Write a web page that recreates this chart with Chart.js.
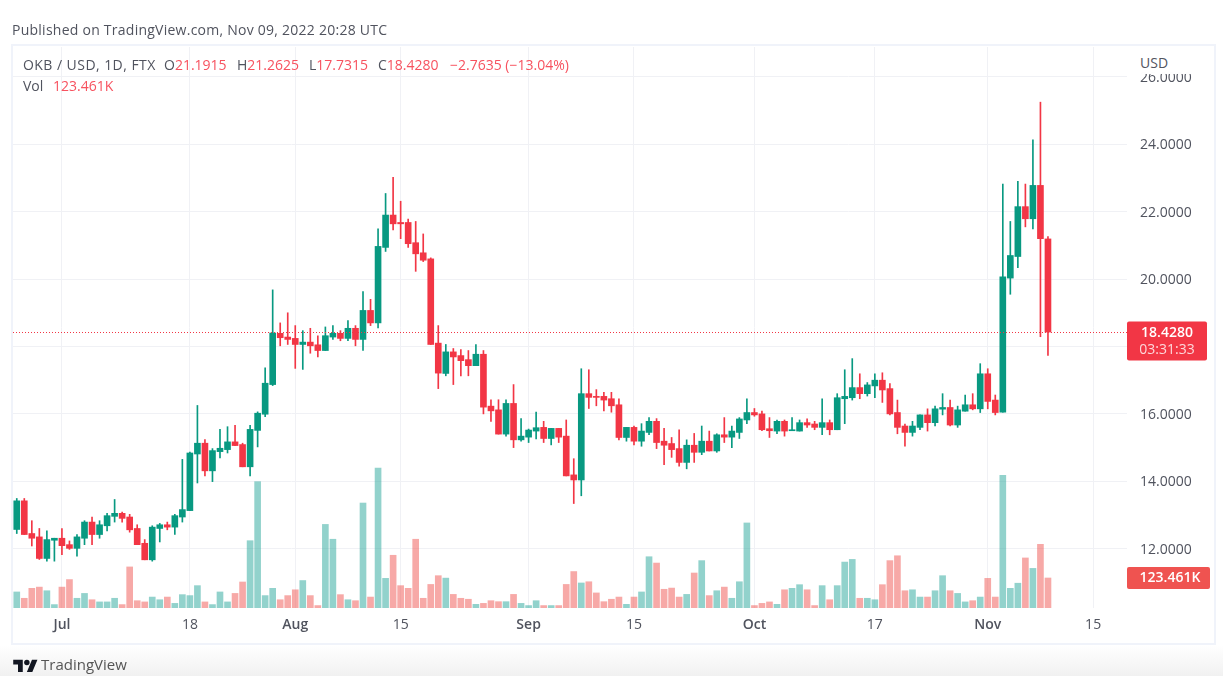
<!DOCTYPE html>
<html>
<head>
<meta charset="utf-8">
<title>OKB / USD</title>
<script src="https://cdn.jsdelivr.net/npm/chart.js@4"></script>
<style>
    html, body { margin: 0; padding: 0; }
    body {
        width: 1223px; height: 676px; overflow: hidden; position: relative;
        background: linear-gradient(#ffffff 0, #ffffff 645px, #f1f1f1 676px);
        font-family: "Open Sans", sans-serif; color: #50535e;
        filter: blur(0.5px);
    }
    #grafico { position: absolute; left: 0; top: 0; }
    #marco { position: absolute; left: 11px; top: 44px; width: 1201px; height: 597px; border: 2px solid #f0f3fa; }
    .texto { position: absolute; white-space: nowrap; font-size: 14px; line-height: 16px; letter-spacing: 0; }
    .rojo { color: #f7525f; }
    #usd { left: 1128px; top: 47px; width: 86px; height: 27px; background: #fff; opacity: 0.99; }
    #usd span { position: absolute; left: 12px; top: 8px; }
    #pie { left: 13px; top: 655px; font-size: 15px; line-height: 18px; letter-spacing: 0; color: #555; }
    #pie svg { position: absolute; left: 0; top: 2px; }
    #pie span { margin-left: 28px; }
</style>
</head>
<body>
<div id="marco"></div>
<canvas id="grafico" width="1223" height="676"></canvas>
<div class="texto" style="left:12px;top:22px;letter-spacing:0.25px">Published on TradingView.com, Nov 09, 2022 20:28 UTC</div>
<div class="texto" style="left:23px;top:57px;letter-spacing:0.45px">OKB / USD, 1D, FTX</div>
<div class="texto" style="left:164px;top:57px">O<span class="rojo">21.1915</span></div>
<div class="texto" style="left:237px;top:57px">H<span class="rojo">21.2625</span></div>
<div class="texto" style="left:309px;top:57px">L<span class="rojo">17.7315</span></div>
<div class="texto" style="left:378px;top:57px">C<span class="rojo">18.4280</span></div>
<div class="texto rojo" style="left:450px;top:57px">−2.7635 (−13.04%)</div>
<div class="texto" style="left:23px;top:78px">Vol</div>
<div class="texto rojo" style="left:53px;top:78px">123.461K</div>
<div class="texto" id="usd"><span>USD</span></div>
<div class="texto" id="pie">
    <svg width="25" height="15" viewBox="0 0 36 22"><path fill="#131722" d="M14 22H7V11H0V4h14v18zM28 22h-8l7.5-18h8L28 22z"/><circle fill="#131722" cx="20" cy="8" r="4"/></svg>
    <span>TradingView</span>
</div>

<script>
const opens = [12.57,13.42,12.45,12.35,11.71,12.25,12.31,12.12,12.01,12.31,12.79,12.42,12.68,12.96,13.05,12.94,12.60,12.16,11.67,12.60,
    12.71,12.64,12.94,13.13,14.81,15.13,14.31,14.88,14.94,15.17,15.09,14.43,15.51,15.99,16.87,18.39,18.28,18.24,18.06,18.13,
    18.05,17.88,18.28,18.39,18.24,18.54,18.21,19.07,18.70,20.94,21.90,21.68,21.68,21.08,20.78,20.60,18.10,17.20,17.84,17.73,
    17.61,17.43,17.77,16.23,16.12,15.40,16.31,15.23,15.31,15.49,15.60,15.27,15.57,15.34,14.19,14.04,16.60,16.52,16.52,16.45,
    16.27,15.30,15.60,15.19,15.45,15.78,15.19,15.12,14.97,14.56,15.07,14.86,15.19,14.90,15.38,15.31,15.45,15.82,16.04,16.00,
    15.56,15.49,15.78,15.50,15.49,15.74,15.70,15.60,15.74,15.53,16.45,16.48,16.78,16.60,16.83,17.00,16.75,16.04,15.64,15.45,
    15.60,15.97,15.74,16.14,16.19,15.67,16.08,16.27,16.15,17.19,16.41,16.05,20.03,20.67,22.15,21.79,22.78,21.1915];
const highs = [13.49,13.49,12.83,12.60,12.53,12.31,12.60,12.23,12.42,12.83,12.94,12.83,13.05,13.46,13.09,13.02,12.71,12.27,12.68,12.75,
    12.79,13.02,14.65,14.87,16.25,15.24,14.97,15.54,15.62,15.66,15.13,15.66,16.06,17.37,19.68,18.70,19.00,18.62,18.47,18.54,
    18.32,18.58,18.62,18.47,18.77,18.62,19.63,19.40,21.49,22.54,23.02,22.31,21.78,21.71,21.34,20.63,18.62,18.06,17.94,17.91,
    17.88,18.06,17.88,16.42,16.42,16.42,16.87,15.86,15.55,16.05,15.78,15.57,15.57,15.82,14.67,17.34,17.31,16.72,16.64,16.64,
    16.45,15.60,15.64,15.71,15.89,15.86,15.57,15.30,15.53,15.23,15.42,15.64,15.49,15.41,15.89,15.64,15.89,16.45,16.16,16.08,
    15.89,15.82,15.82,15.89,15.82,15.85,15.78,16.45,15.82,16.60,17.31,17.64,17.19,16.93,17.19,17.22,16.90,16.41,15.70,15.78,
    15.97,16.15,16.23,16.60,16.41,16.23,16.56,16.60,17.49,17.34,16.56,22.82,21.71,22.90,22.82,24.13,25.25,21.2625];
const lows = [12.45,12.42,12.08,11.68,11.63,11.63,11.82,11.98,11.78,12.12,12.12,12.31,12.53,12.79,12.79,12.49,12.12,11.67,11.63,12.20,
    12.56,12.42,12.79,13.13,13.95,14.16,13.99,14.69,14.84,15.06,14.43,14.16,15.02,15.92,16.84,18.02,18.06,17.35,17.32,17.80,
    17.69,17.88,18.21,18.17,18.17,18.02,17.88,18.62,18.55,20.82,21.46,21.20,20.94,20.23,20.52,18.06,16.75,17.13,16.87,17.13,
    17.13,17.43,16.00,15.78,15.40,15.34,15.00,15.19,15.15,15.26,15.15,15.08,15.15,14.16,13.34,13.57,16.16,16.24,16.09,16.05,
    15.23,15.19,15.08,15.04,15.38,14.97,14.49,14.71,14.45,14.37,14.56,14.79,14.90,14.86,15.15,15.00,15.27,15.71,15.93,15.50,
    15.30,15.41,15.34,15.50,15.49,15.60,15.53,15.38,15.38,15.53,15.71,16.41,16.45,16.53,16.48,16.34,15.97,15.41,15.04,15.34,
    15.53,15.49,15.64,15.97,15.64,15.60,16.08,16.12,16.04,16.15,15.97,16.05,19.55,20.34,21.55,21.49,18.29,17.7315];
const closes = [13.42,12.42,12.31,11.71,12.27,12.31,12.09,12.01,12.35,12.79,12.42,12.71,12.98,13.05,12.90,12.56,12.12,11.67,12.64,12.71,
    12.64,12.98,13.16,14.84,15.13,14.31,14.91,14.98,15.17,15.06,14.43,15.54,16.02,16.91,18.40,18.26,18.21,18.06,18.13,18.02,
    17.88,18.32,18.39,18.24,18.54,18.21,19.07,18.70,20.97,21.90,21.64,21.64,21.05,20.75,20.56,18.06,17.21,17.84,17.69,17.58,
    17.43,17.77,16.20,16.09,15.40,16.31,15.23,15.34,15.52,15.59,15.27,15.57,15.31,14.16,14.04,16.60,16.49,16.49,16.41,16.24,
    15.30,15.60,15.19,15.49,15.78,15.15,15.07,14.94,14.56,15.07,14.86,15.19,14.90,15.38,15.31,15.49,15.85,16.04,15.97,15.53,
    15.50,15.78,15.49,15.53,15.74,15.67,15.60,15.74,15.53,16.48,16.52,16.78,16.60,16.86,17.00,16.71,16.00,15.60,15.45,15.64,
    15.97,15.74,16.15,16.19,15.67,16.12,16.27,16.15,17.19,16.37,16.04,20.07,20.70,22.15,21.79,22.78,21.20,18.428];
// volumen en miles
const volumes = [66,40,81,86,71,14,86,117,40,60,34,25,25,40,14,169,30,25,45,34,
    45,19,55,51,92,25,14,66,25,60,107,277,520,51,81,34,51,75,113,51,
    10,344,283,55,34,30,432,45,576,122,217,92,81,283,40,97,133,123,56,40,
    36,15,19,30,26,26,56,19,10,30,10,10,10,97,150,103,108,62,26,36,
    45,15,45,66,211,185,77,82,45,56,144,195,51,71,86,40,108,350,10,19,
    25,15,75,81,96,75,10,92,34,92,189,200,40,40,34,96,195,215,71,75,
    45,45,71,133,71,60,25,30,45,122,45,546,81,102,206,163,262,123.461];

const tickPrices = [12, 14, 16, 18, 20, 22, 24, 26];
const tickDates = ['2022-07-01', '2022-07-18', '2022-08-01', '2022-08-15', '2022-09-01', '2022-09-15', '2022-10-01', '2022-10-17', '2022-11-01', '2022-11-15'];
const tickLabels = ['Jul', '18', 'Aug', '15', 'Sep', '15', 'Oct', '17', 'Nov', '15'];
const monthLabels = ['Jul', 'Aug', 'Sep', 'Oct', 'Nov'];

const lastPrice = 18.428;
const lastVolume = 123.461;

const VERDE = '#089981';
const ROJO = '#f23645';
const GRILLA = '#f0f1f5';
const FUENTE = '"Open Sans"';

// dias del eje, desde el 25 de junio, con espacio libre a la derecha
const fechas = [];
for (let i = 0; i < 148; i++) {
    fechas.push(new Date(Date.UTC(2022, 5, 25 + i)).toISOString().slice(0, 10));
}

const colorVela = ctx => closes[ctx.dataIndex] >= opens[ctx.dataIndex] ? VERDE : ROJO;
const colorVolumen = ctx => closes[ctx.dataIndex] >= opens[ctx.dataIndex] ? 'rgba(38,166,154,0.5)' : 'rgba(239,83,80,0.5)';

const etiquetas = {
    id: 'etiquetas',
    afterDatasetsDraw(chart) {
        const { ctx, chartArea, scales } = chart;
        const yPrecio = scales.y.getPixelForValue(lastPrice);
        const yVol = scales.yVol.getPixelForValue(lastVolume);

        ctx.save();
        ctx.strokeStyle = ROJO;
        ctx.lineWidth = 1;
        ctx.setLineDash([1, 2]);
        ctx.beginPath();
        ctx.moveTo(chartArea.left, Math.round(yPrecio) + 0.5);
        ctx.lineTo(chartArea.right, Math.round(yPrecio) + 0.5);
        ctx.stroke();
        ctx.setLineDash([]);

        ctx.fillStyle = ROJO;
        ctx.beginPath();
        ctx.roundRect(chartArea.right, yPrecio - 10.5, 80, 39, 2);
        ctx.fill();
        ctx.fillStyle = '#ef5350';
        ctx.beginPath();
        ctx.roundRect(chartArea.right, yVol - 11, 83, 22, 2);
        ctx.fill();

        ctx.font = '600 14px ' + FUENTE;
        ctx.textAlign = 'center';
        ctx.textBaseline = 'middle';
        ctx.fillStyle = '#fff';
        ctx.fillText(lastPrice.toFixed(4), chartArea.right + 40, yPrecio + 1);
        ctx.fillText('123.461K', chartArea.right + 43, yVol + 0.5);
        ctx.fillStyle = 'rgba(255,255,255,0.8)';
        ctx.font = '14px ' + FUENTE;
        ctx.fillText('03:31:33', chartArea.right + 40, yPrecio + 18);
        ctx.restore();
    }
};

new Chart(document.getElementById('grafico').getContext('2d'), {
    type: 'bar',
    data: {
        labels: fechas,
        datasets: [
            {
                label: 'Cuerpo',
                data: opens.map((o, i) => [o, closes[i]]),
                backgroundColor: colorVela,
                barThickness: 6,
                grouped: false,
                yAxisID: 'y',
                order: 1
            },
            {
                label: 'Mecha',
                data: highs.map((h, i) => [lows[i], h]),
                backgroundColor: colorVela,
                barThickness: 1,
                grouped: false,
                yAxisID: 'y',
                order: 2
            },
            {
                label: 'Vol',
                data: volumes,
                backgroundColor: colorVolumen,
                barThickness: 6,
                grouped: false,
                yAxisID: 'yVol',
                order: 3
            }
        ]
    },
    options: {
        responsive: false,
        animation: false,
        events: [],
        layout: { padding: { left: 13, top: 47, right: 8, bottom: 32 } },
        plugins: { legend: { display: false }, tooltip: { enabled: false } },
        scales: {
            x: {
                afterFit(scale) { scale.height = 36; },
                border: { display: false },
                grid: {
                    offset: false,
                    drawTicks: false,
                    color: ctx => ctx.tick && ctx.tick.label ? GRILLA : 'transparent'
                },
                ticks: {
                    autoSkip: false,
                    maxRotation: 0,
                    padding: 9,
                    font: ctx => ({ family: FUENTE, size: 14, weight: ctx.tick && monthLabels.includes(ctx.tick.label) ? '600' : '400' }),
                    color: '#50535e',
                    callback(valor) {
                        const i = tickDates.indexOf(this.getLabelForValue(valor));
                        return i >= 0 ? tickLabels[i] : '';
                    }
                }
            },
            y: {
                position: 'right',
                min: 10.24,
                max: 26.887,
                afterFit(scale) { scale.width = 88; },
                afterBuildTicks(scale) { scale.ticks = tickPrices.map(v => ({ value: v })); },
                border: { display: false },
                grid: { color: GRILLA, drawTicks: false },
                ticks: {
                    padding: 13,
                    labelOffset: 1,
                    font: { family: FUENTE, size: 14 },
                    color: '#50535e',
                    callback: valor => valor.toFixed(4)
                }
            },
            yVol: {
                display: false,
                min: 0,
                max: 2309
            }
        }
    },
    plugins: [etiquetas]
});
</script>
</body>
</html>
